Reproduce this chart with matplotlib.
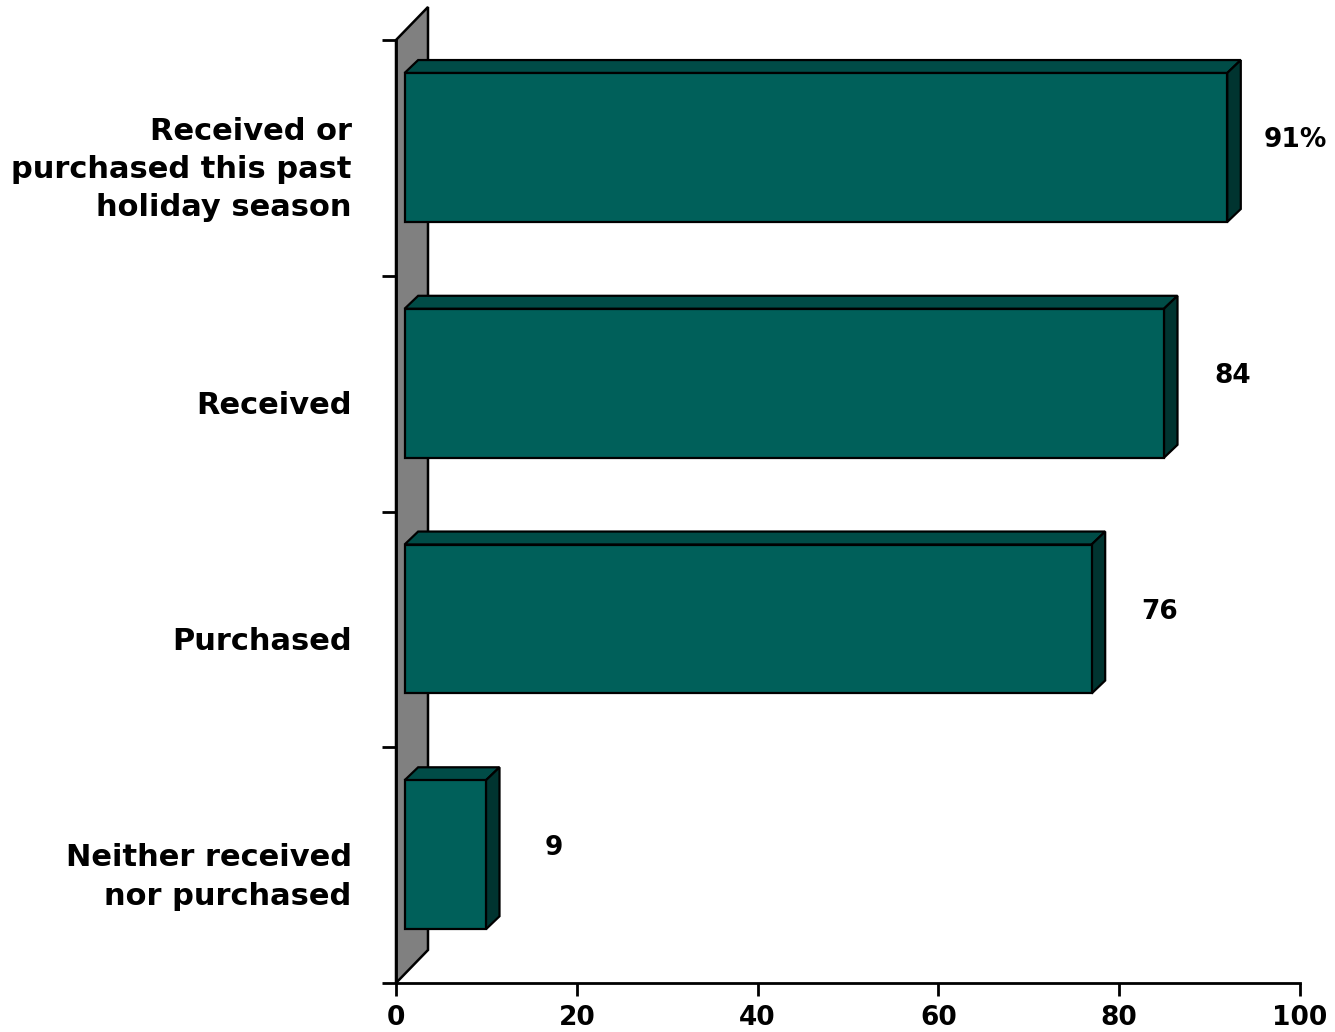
import matplotlib
matplotlib.use("Agg")
import matplotlib.pyplot as plt
from matplotlib.patches import Polygon

categories = ["Received or\npurchased this past\nholiday season",
              "Received",
              "Purchased",
              "Neither received\nnor purchased"]
values = [91, 84, 76, 9]
value_labels = ["91%", "84", "76", "9"]
xticks = [0, 20, 40, 60, 80, 100]

front_col = "#00605A"
top_col = "#004C47"
side_col = "#003430"
wall_col = "#808080"

fig = plt.figure(figsize=(13.35, 10.32), dpi=100)
ax = fig.add_axes([396 / 1335, 1 - 983 / 1032, 904 / 1335, 943 / 1032])
ax.set_xlim(0, 100)
ax.set_ylim(0, 4)

# back wall (3d depth)
wdx, wdy = 3.54, 0.14
ax.add_patch(Polygon([(0, 0), (0, 4), (wdx, 4 + wdy), (wdx, wdy)],
                     closed=True, facecolor=wall_col, edgecolor="black",
                     lw=1.8, clip_on=False, zorder=1))

# bars with top and side faces
shift = 0.95
dx, dy = 1.5, 0.055
h = 0.632
n = len(categories)
for i, (v, lab) in enumerate(zip(values, value_labels)):
    yc = n - i - 0.456
    y0, y1 = yc - h / 2, yc + h / 2
    x0, x1 = shift, shift + v
    ax.add_patch(Polygon([(x0, y1), (x0 + dx, y1 + dy), (x1 + dx, y1 + dy), (x1, y1)],
                         closed=True, facecolor=top_col, edgecolor="black", lw=1.6,
                         clip_on=False, zorder=2))
    ax.add_patch(Polygon([(x1, y0), (x1, y1), (x1 + dx, y1 + dy), (x1 + dx, y0 + dy)],
                         closed=True, facecolor=side_col, edgecolor="black", lw=1.6,
                         clip_on=False, zorder=2))
    ax.barh(yc, v, left=x0, height=h, color=front_col, edgecolor="black",
            linewidth=1.6, zorder=3)
    ax.text(v + 8.5, yc + 0.03, lab, ha="center", va="center",
            fontsize=19, fontweight="bold")
    ax.text(-4.9, n - i - 0.55, categories[i], ha="right", va="center",
            fontsize=22, fontweight="bold", linespacing=1.4)

for s in ["top", "right"]:
    ax.spines[s].set_visible(False)
for s in ["left", "bottom"]:
    ax.spines[s].set_linewidth(2)

ax.set_xticks(xticks)
ax.set_xticklabels([str(t) for t in xticks], fontsize=19, fontweight="bold")
ax.set_yticks(range(n + 1))
ax.set_yticklabels([])
ax.tick_params(axis="x", direction="out", length=9, width=2, pad=7)
ax.tick_params(axis="y", direction="out", length=10, width=2)

fig.savefig("out.png", dpi=100)
